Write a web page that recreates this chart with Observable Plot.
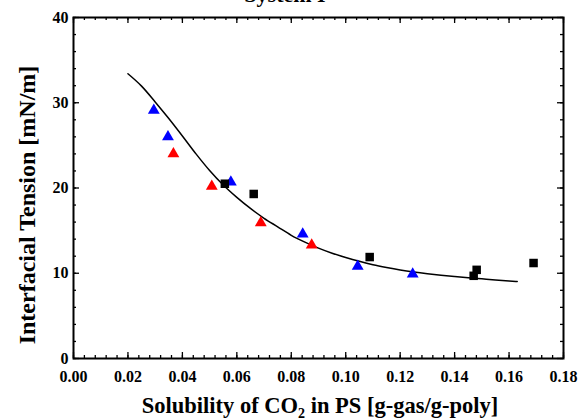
<!DOCTYPE html>
<html><head><meta charset="utf-8">
<script src="https://cdn.jsdelivr.net/npm/d3@7"></script>
<script src="https://cdn.jsdelivr.net/npm/@observablehq/plot@0.6"></script>
<style>body{margin:0;background:#fff}</style>
</head><body><div id="chart"></div>
<script>
// Blue triangles
const blueX = [0.0295, 0.0347, 0.0578, 0.0842, 0.1044, 0.1246];
const blueY = [29.1, 26.0, 20.7, 14.6, 10.8, 9.9];
// Red triangles
const redX = [0.0367, 0.0508, 0.0688, 0.0875];
const redY = [24.0, 20.2, 15.9, 13.3];
// Black squares
const blackX = [0.0556, 0.0662, 0.1088, 0.1470, 0.1481, 0.1690];
const blackY = [20.5, 19.3, 11.9, 9.7, 10.4, 11.2];
// Fitted curve
const curveX = [0.020,0.025,0.030,0.035,0.040,0.045,0.050,0.055,0.060,0.065,0.070,0.075,0.080,0.085,0.090,0.095,0.100,0.105,0.110,0.115,0.120,0.125,0.130,0.135,0.140,0.145,0.150,0.155,0.160,0.163];
const curveY = [33.4,31.95,30.1,28.15,26.1,24.0,22.05,20.35,18.9,17.6,16.45,15.45,14.45,13.65,12.95,12.35,11.85,11.4,11.0,10.67,10.38,10.14,9.94,9.77,9.62,9.48,9.35,9.22,9.1,9.03];
// Ticks
const xTicks = [0, 0.02, 0.04, 0.06, 0.08, 0.10, 0.12, 0.14, 0.16, 0.18];
const yTicks = [0, 10, 20, 30, 40];
const xMinor = d3.range(0, 0.1801, 0.004);
const yMinor = d3.range(0, 40.01, 2);

const idx = a => a.map((_, i) => i);
const tickStyle = {stroke: "black", strokeWidth: 1.3};

const chart = Plot.plot({
  width: 579, height: 419,
  marginLeft: 73, marginRight: 16, marginTop: 17, marginBottom: 61,
  style: {fontFamily: "'Liberation Serif', 'Times New Roman', serif", fontSize: "16px", fontWeight: "bold", background: "white"},
  x: {domain: [0, 0.18]},
  y: {domain: [0, 40]},
  marks: [
    Plot.axisX(xTicks, {tickSize: 0, tickPadding: 12, tickFormat: d3.format(".2f"), label: null, fontSize: 16}),
    Plot.axisY(yTicks, {tickSize: 0, tickPadding: 5, label: null, fontSize: 16}),
    // minor ticks
    Plot.ruleX(xMinor, {x: d => d, y1: 0, y2: 0, insetBottom: 3, ...tickStyle}),
    Plot.ruleX(xMinor, {x: d => d, y1: 40, y2: 40, insetTop: 3, ...tickStyle}),
    Plot.ruleY(yMinor, {y: d => d, x1: 0, x2: 0, insetLeft: 3, ...tickStyle}),
    Plot.ruleY(yMinor, {y: d => d, x1: 0.18, x2: 0.18, insetRight: 3, ...tickStyle}),
    // major ticks
    Plot.ruleX(xTicks, {x: d => d, y1: 0, y2: 0, insetBottom: 6, ...tickStyle}),
    Plot.ruleX(xTicks, {x: d => d, y1: 40, y2: 40, insetTop: 6, ...tickStyle}),
    Plot.ruleY(yTicks, {y: d => d, x1: 0, x2: 0, insetLeft: 6, ...tickStyle}),
    Plot.ruleY(yTicks, {y: d => d, x1: 0.18, x2: 0.18, insetRight: 6, ...tickStyle}),
    Plot.line(idx(curveX), {x: i => curveX[i], y: i => curveY[i], curve: "monotone-x", stroke: "black", strokeWidth: 1.5}),
    Plot.dot(idx(blueX), {x: i => blueX[i], y: i => blueY[i], symbol: "triangle", r: 4.4, fill: "#0000ff"}),
    Plot.dot(idx(redX), {x: i => redX[i], y: i => redY[i], symbol: "triangle", r: 4.4, fill: "#ff0000"}),
    Plot.dot(idx(blackX), {x: i => blackX[i], y: i => blackY[i], symbol: "square", r: 4.8, fill: "black"}),
    Plot.frame({stroke: "black", strokeWidth: 2})
  ]
});

const svg = d3.select(chart);
const font = "'Liberation Serif', 'Times New Roman', serif";
// clipped title at top (only its lower edge is visible)
svg.append("text").attr("x", 285).attr("y", 1.5).attr("text-anchor", "middle")
  .style("font-family", font).style("font-size", "22px").style("font-weight", "bold")
  .text("System I");
// x-axis title
const xt = svg.append("text").attr("x", 320).attr("y", 413).attr("text-anchor", "middle")
  .style("font-family", font).style("font-size", "22.5px").style("font-weight", "bold");
xt.append("tspan").text("Solubility of CO");
xt.append("tspan").attr("dy", 5).style("font-size", "14px").text("2");
xt.append("tspan").attr("dy", -5).text(" in PS [g-gas/g-poly]");
// y-axis title
svg.append("text").attr("transform", "translate(35,205) rotate(-90)").attr("text-anchor", "middle")
  .style("font-family", font).style("font-size", "24px").style("font-weight", "bold")
  .text("Interfacial Tension [mN/m]");

document.getElementById("chart").appendChild(chart);
</script>
</body></html>
